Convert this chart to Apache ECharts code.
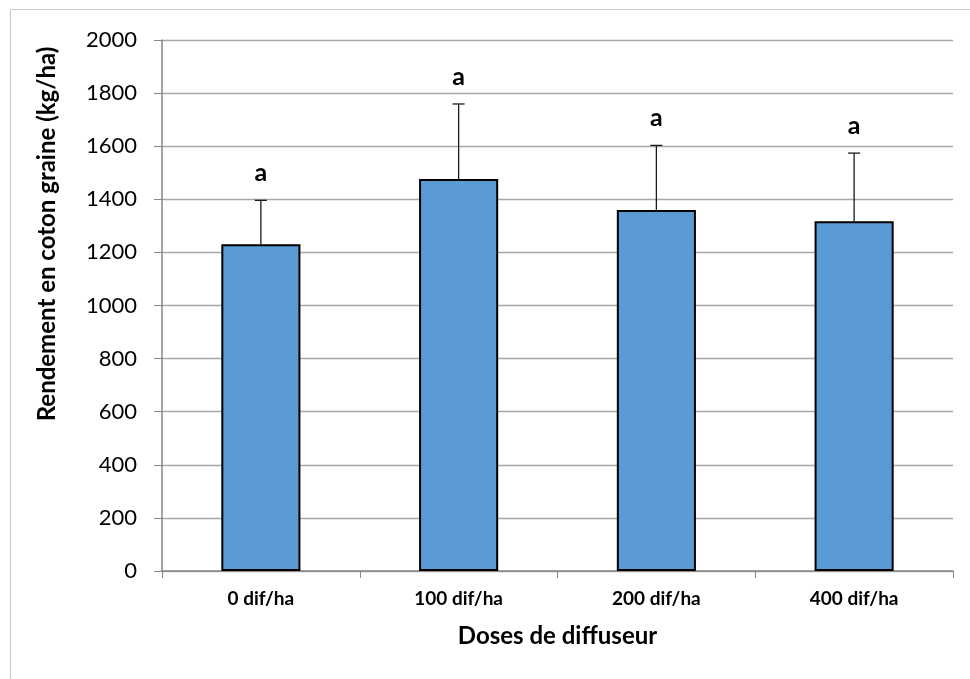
<!DOCTYPE html>
<html>
<head>
<meta charset="utf-8">
<script src="https://cdn.jsdelivr.net/npm/echarts@6/dist/echarts.min.js"></script>
<style>
  html, body { margin: 0; padding: 0; background: #fff; }
  #chart { width: 970px; height: 679px; }
</style>
</head>
<body>
<div id="chart"></div>
<script>
// Yield of seed cotton by diffuser dose
const categories = ['0 dif/ha', '100 dif/ha', '200 dif/ha', '400 dif/ha'];
const yieldMean = [1231, 1476, 1360, 1317];
const yieldUpper = [1396, 1759, 1603, 1574];
const groupLetters = ['a', 'a', 'a', 'a'];
const yTitle = 'Rendement en coton graine (kg/ha)';
const xTitle = 'Doses de diffuseur';

const FONT = 'Lato, "Open Sans", sans-serif';
const chart = echarts.init(document.getElementById('chart'));

chart.setOption({
  animation: false,
  backgroundColor: '#fff',
  graphic: [
    {
      type: 'rect',
      shape: { x: 10.5, y: 9.5, width: 1000, height: 700 },
      style: { fill: 'none', stroke: '#c8c8c8', lineWidth: 1 },
      silent: true
    },
    {
      type: 'text',
      x: 47, y: 234,
      rotation: Math.PI / 2,
      style: { text: yTitle, fill: '#000', font: 'bold 24px ' + FONT,
               align: 'center', verticalAlign: 'middle' },
      silent: true
    }
  ],
  grid: { left: 162, right: 17, top: 40, bottom: 108 },
  xAxis: {
    type: 'category',
    data: categories,
    name: xTitle,
    nameLocation: 'middle',
    nameGap: 65,
    nameTextStyle: { fontFamily: FONT, fontWeight: 'bold', fontSize: 24, color: '#000',
                     verticalAlign: 'middle' },
    axisLine: { lineStyle: { color: '#868686', width: 1.5 } },
    axisTick: { show: true, alignWithLabel: false, length: 7, lineStyle: { color: '#868686' } },
    axisLabel: { fontFamily: FONT, fontWeight: 'bold', fontSize: 19, color: '#000', margin: 18 }
  },
  yAxis: {
    type: 'value',
    min: 0,
    max: 2000,
    interval: 200,
    axisLine: { show: true, lineStyle: { color: '#868686', width: 1.5 } },
    axisTick: { show: true, length: 8, lineStyle: { color: '#868686' } },
    axisLabel: { fontFamily: FONT, fontSize: 22, color: '#000', margin: 25,
                 formatter: v => String(v) },
    splitLine: { lineStyle: { color: '#a8a8a8', width: 1.4 } }
  },
  series: [
    {
      type: 'bar',
      data: yieldMean,
      barWidth: '40%',
      itemStyle: { color: '#5b9bd5', borderColor: '#000', borderWidth: 2 },
      z: 2
    },
    {
      type: 'custom',
      z: 3,
      data: yieldMean.map((v, i) => [i, v, yieldUpper[i]]),
      renderItem: function (params, api) {
        const base = api.coord([api.value(0), api.value(1)]);
        const top = api.coord([api.value(0), api.value(2)]);
        const cap = 6;
        return {
          type: 'group',
          children: [
            { type: 'line', shape: { x1: base[0], y1: base[1], x2: top[0], y2: top[1] },
              style: { stroke: '#1a1a1a', lineWidth: 1.3 } },
            { type: 'line', shape: { x1: top[0] - cap, y1: top[1], x2: top[0] + cap, y2: top[1] },
              style: { stroke: '#1a1a1a', lineWidth: 1.3 } },
            { type: 'text', x: top[0], y: top[1] - 27,
              style: { text: groupLetters[params.dataIndex], fill: '#000',
                       font: 'bold 25px ' + FONT, align: 'center', verticalAlign: 'middle' } }
          ]
        };
      }
    }
  ]
});
</script>
</body>
</html>
